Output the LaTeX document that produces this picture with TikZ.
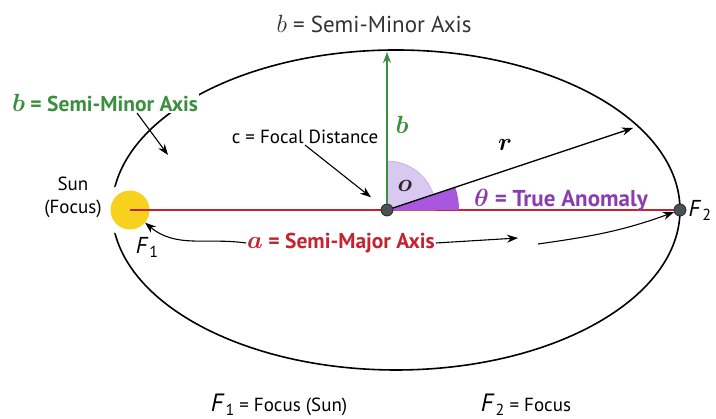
\documentclass[tikz,border=0pt]{standalone}
\usepackage{fontspec}
\setmainfont{PT Sans}
\usetikzlibrary{arrows.meta,calc,positioning}
\definecolor{orbitgreen}{HTML}{3C8F3E}
\definecolor{axisred}{HTML}{C4232F}
\definecolor{anomalypurple}{HTML}{8B3DB0}
\definecolor{wedgelight}{HTML}{D9C8EF}
\definecolor{wedgedark}{HTML}{A957DE}
\definecolor{sunyellow}{HTML}{F6D21E}
\definecolor{dotgray}{HTML}{4B5057}
\newcommand{\focuslbl}[1]{\textit{F}\kern1pt\raisebox{-0.35ex}{\fontsize{16}{16}\selectfont #1}}
\newcommand{\bigital}[1]{{\fontsize{25}{25}\selectfont$#1$}}

\begin{document}
\begin{tikzpicture}[x=1pt,y=1pt,>={Stealth[length=11pt,width=8pt]},font=\fontsize{19}{23}\selectfont]
\tikzset{lbl/.style={inner sep=1pt},
  biglbl/.style={lbl,font=\fontsize{23}{27}\selectfont},
  keylbl/.style={lbl,font=\fontsize{21.5}{25}\selectfont\bfseries\boldmath},
  focusdot/.style={circle,fill=dotgray,draw=black!85,line width=0.8pt,minimum size=12pt,inner sep=0pt},
  sunball/.style={circle,fill=sunyellow,minimum size=39pt,inner sep=0pt,preaction={draw=white,line width=16pt}},
  pointer/.style={->,line width=1.1pt}}
\useasboundingbox (0,0) rectangle (716,419);
% orbit and foci
\draw[line width=1.6pt] (396,209) ellipse [x radius=284, y radius=160];
\node[keylbl,text=orbitgreen,fill=white] (minorlbl) at (105,316) {\bigital{b} = Semi-Minor Axis};
\node[sunball] (sun) at (130,209) {};
\coordinate (mid) at (387,209);
\coordinate (F2pt) at (680,209);
\draw[axisred,line width=1.2pt] (sun.center) -- (F2pt);
% angles
\fill[wedgelight,draw=anomalypurple!45,line width=0.6pt] (mid) -- ++(49,0) arc[start angle=0,end angle=90,radius=49] -- cycle;
\fill[wedgedark] (mid) -- ++(72,0) arc[start angle=0,end angle=18.4,radius=72] -- cycle;
\node[focusdot] (middot) at (mid) {};
\node[focusdot] (F2dot) at (F2pt) {};
% axes and radius
\coordinate (btip) at (387,367);
\coordinate (rtip) at (633,291);
\draw[->,orbitgreen,line width=1.4pt] (middot) -- (btip);
\draw[->,line width=1.4pt] (middot) -- (rtip);
% labels
\node[biglbl,text=black!80] (toplbl) at (374,395) {\bigital{b} = Semi-Minor Axis};
\node[keylbl,text=orbitgreen] (blbl) at (402,294) {\bigital{b}};
\node[keylbl] (rlbl) at (505,274) {{\fontsize{28}{28}\selectfont$r$}};
\node[keylbl,text=black!85] (olbl) at (405,233) {\bigital{o}};
\node[keylbl,text=anomalypurple,font=\fontsize{23}{27}\selectfont\bfseries\boldmath] (thetalbl) at (561,219) {$\theta$ = True Anomaly};
\node[lbl] (focallbl) at (305,282) {c = Focal Distance};
\node[lbl,align=center] (sunlbl) at (73,222) {Sun\\(Focus)};
\node[biglbl] (f1lbl) at (147,172) {\focuslbl{1}};
\node[biglbl,right=1pt of F2dot] (f2lbl) {\focuslbl{2}};
\node[keylbl,text=axisred] (majorlbl) at (341,176) {{\fontsize{27}{27}\selectfont$a$} = Semi-Major Axis};
\node[lbl] (legendone) at (279,14) {{\fontsize{25}{25}\selectfont\focuslbl{1}} = Focus (Sun)};
\node[lbl] (legendtwo) at (526,14) {{\fontsize{25}{25}\selectfont\focuslbl{2}} = Focus};
% pointers
\coordinate (minortip) at (168,264);
\coordinate (majortip) at (518,181);
\coordinate (majorback) at (538,175);
\draw[pointer] ([xshift=32pt]minorlbl.south) -- (minortip);
\draw[pointer,shorten >=14pt] (focallbl.south) -- (middot);
\draw[pointer] (majorlbl.west) to[out=172,in=-40] (sun);
\draw[pointer] (majorlbl.east) -- (majortip);
\draw[pointer] (majorback) to[out=8,in=200] (F2dot);
\end{tikzpicture}
\end{document}
